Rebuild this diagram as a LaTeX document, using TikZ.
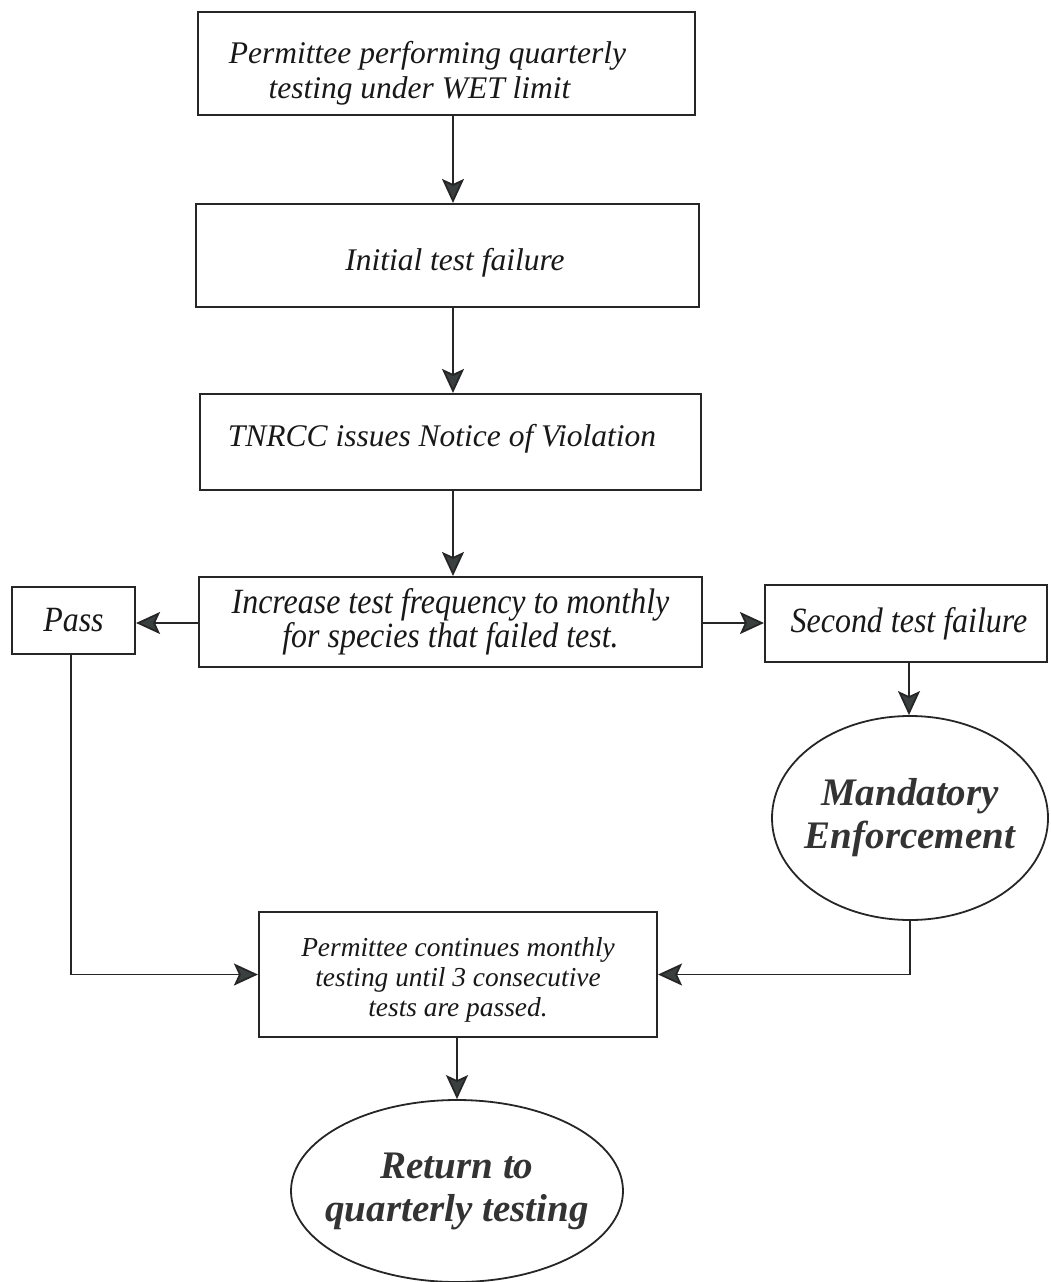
\documentclass[tikz,border=0pt]{standalone}
\usepackage{fontspec}
\setmainfont{Liberation Serif}
\newfontfamily\condfont[FakeStretch=0.9]{Liberation Serif}
\usetikzlibrary{shapes.geometric,arrows.meta}
\definecolor{ink}{HTML}{262626}
\definecolor{tipc}{HTML}{3A4040}
\definecolor{txt}{HTML}{181818}
\definecolor{bigtxt}{HTML}{333333}
\tikzset{
  box/.style={draw=ink, line width=2.1pt, rectangle, inner sep=0pt, align=center, text=txt},
  oval/.style={draw=ink, line width=1.8pt, ellipse, inner ysep=0pt, inner xsep=-22pt, align=center, text=bigtxt,
    font={\fontsize{39}{43}\selectfont\bfseries\itshape}},
  arr/.style={draw=ink, line width=1.8pt, -{Stealth[length=24pt,width=22pt,inset=5pt,fill=tipc]}},
}
\begin{document}
\begin{tikzpicture}[x=1pt,y=-1pt]
\useasboundingbox (0,0) rectangle (1051,1282);

\node[box, minimum width=497pt, minimum height=103pt,
  font={\fontsize{31.5}{35}\selectfont\itshape}] (b1) at (446.5,63.5)
  {\rule{0pt}{42pt}Permittee performing quarterly\hspace*{38pt}\\testing under WET limit\hspace*{54pt}};
\node[box, minimum width=503pt, minimum height=103pt,
  font={\fontsize{31.5}{36}\selectfont\itshape}] (b2) at (447.5,255.5)
  {\rule{0pt}{37pt}\hspace*{15pt}Initial test failure};
\node[box, minimum width=501pt, minimum height=96pt,
  font={\fontsize{31.5}{36}\selectfont\itshape}] (b3) at (450.5,442)
  {\rule[-13pt]{0pt}{13pt}TNRCC issues Notice of Violation\hspace*{17pt}};
\node[box, minimum width=503pt, minimum height=90pt,
  font={\condfont\fontsize{35.5}{34}\selectfont\itshape}] (b4) at (450.5,622)
  {Increase test frequency to monthly\\for species that failed test.};
\node[box, minimum width=123pt, minimum height=67pt,
  font={\condfont\fontsize{35.5}{34}\selectfont\itshape}] (pass) at (73.5,620.5)
  {Pass};
\node[box, minimum width=282pt, minimum height=77pt,
  font={\condfont\fontsize{35.5}{34}\selectfont\itshape}] (sec) at (906,623.5)
  {\hspace*{6pt}Second test failure};
\node[oval, minimum width=276pt, minimum height=204pt] (mand) at (910,818)
  {Mandatory\\Enforcement};
\node[box, minimum width=398pt, minimum height=125pt,
  font={\fontsize{27.4}{30}\selectfont\itshape}] (bot) at (458,974.5)
  {\rule{0pt}{30pt}Permittee continues monthly\\testing until 3 consecutive\\tests are passed.};
\node[oval, minimum width=332pt, minimum height=182pt] (ret) at (457,1191)
  {Return to\\quarterly testing};

\draw[arr] (b1.south -| 453,0) -- (b2.north -| 453,0);
\draw[arr] (b2.south -| 453,0) -- (b3.north -| 453,0);
\draw[arr] (b3.south -| 453,0) -- (b4.north -| 453,0);
\draw[arr] (b4.west |- 0,623) -- (pass.east |- 0,623);
\draw[arr] (b4.east |- 0,623) -- (sec.west |- 0,623);
\draw[arr] (sec.south -| 909,0) -- (mand.north -| 909,0);
\draw[arr] (pass.south -| 71,0) |- (bot.west);
\draw[arr] (mand.south) |- (bot.east);
\draw[arr] (bot.south -| 457,0) -- (ret.north -| 457,0);
\end{tikzpicture}
\end{document}
